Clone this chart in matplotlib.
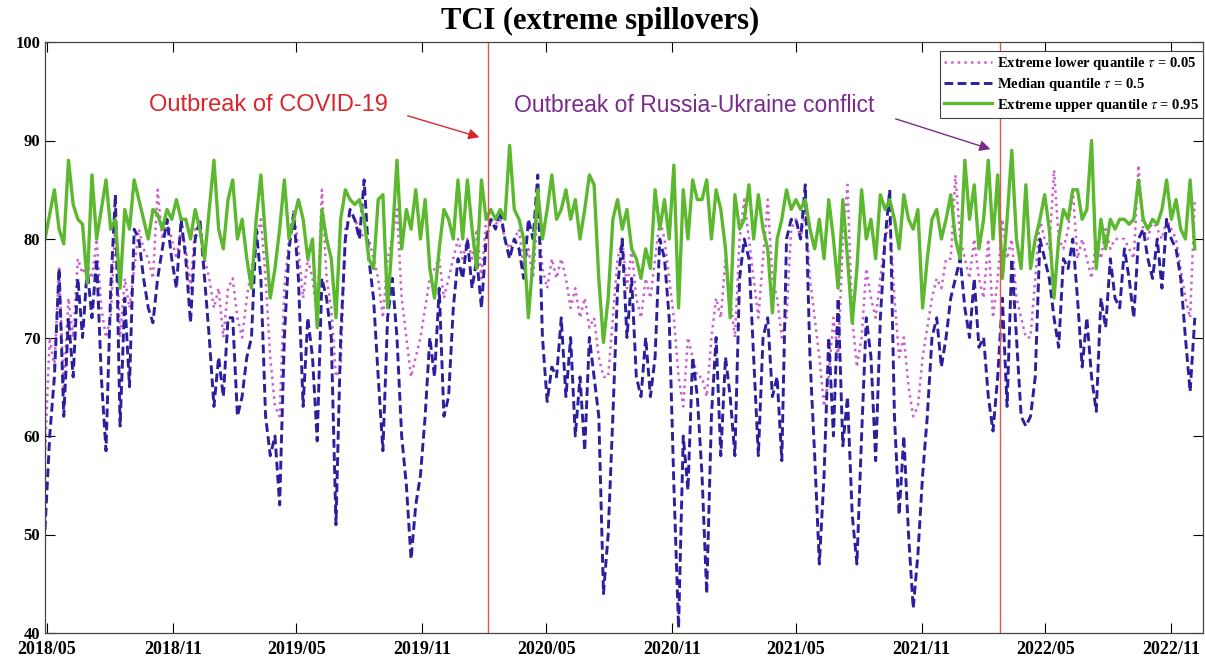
import numpy as np
import pandas as pd
import matplotlib
matplotlib.use('Agg')
import matplotlib.pyplot as plt
import matplotlib.dates as mdates

# weekly readings of the three TCI series
tci_upper = [
    80, 82.5, 85, 81, 79.5, 88, 83.5, 82, 81.5, 75.5,
    86.5, 80, 83, 86, 81, 82, 75, 83, 81, 86,
    84, 82, 80, 83, 82.5, 81, 83, 82, 84, 82,
    82, 80, 83, 81, 78, 83, 88, 81, 79, 84,
    86, 80, 82, 78, 75, 82, 86.5, 80, 74, 77,
    81, 86, 80, 82, 84, 82, 78, 80, 71, 83,
    80, 78, 72, 82, 85, 84, 83.5, 84, 82, 78,
    77, 84, 84.5, 73, 80, 88, 79, 83, 81, 85,
    80, 84, 77, 74, 79, 83, 82, 80, 86, 80,
    86, 81, 77, 86, 82, 83, 82, 83, 82, 89.5,
    83, 82, 80, 72, 78, 85, 80, 83, 86.5, 82,
    83, 85, 82, 84, 80, 83, 86.5, 85.5, 76, 69.5,
    74, 82, 84, 81, 83, 79, 78, 76, 79, 77,
    85, 81, 84, 80, 87.5, 73, 85, 80, 86, 84,
    84, 86, 80, 85, 83, 79, 72, 84.5, 81, 82,
    85.5, 80, 84.5, 81, 79, 72.5, 80, 82, 85, 83,
    84, 83, 84, 81, 79, 82, 78, 84, 80, 75,
    84, 78, 71.5, 77, 85, 80, 82, 78, 84.5, 83,
    84, 82, 79, 84.5, 82, 81, 83, 73, 78, 82,
    83, 80, 82, 84.5, 80, 78, 88, 82, 85.5, 79,
    82, 88, 80, 86.5, 76, 82, 89, 80, 77, 85.5,
    77, 80, 82, 84.5, 81, 74, 80, 83, 82, 85,
    85, 82, 83, 90, 77, 82, 79, 82, 81, 82,
    82, 81.5, 82, 86, 82, 81, 82, 81.5, 83, 86, 82, 84, 81, 80, 86, 79,
]

tci_median = [
    50.5, 60, 66, 77, 62, 72, 66, 76, 70, 77,
    72, 78, 66, 58.5, 75, 84.5, 61, 74, 65, 81,
    80, 76, 73, 71.5, 76, 79, 82, 78, 75, 82,
    78, 71.5, 80, 82, 76, 70, 63, 68, 64, 72,
    72, 62, 64, 68, 70, 81, 76, 62, 58, 60,
    53, 70, 79, 82.5, 76, 63, 72, 68, 59.5, 76,
    74, 70, 51, 70, 80, 83, 82, 80, 86, 78,
    74, 66, 58.5, 72, 76, 70, 60, 55, 47.5, 53,
    56, 62, 70, 66, 75, 62, 64, 73, 78, 76,
    80, 75, 78, 73, 80, 82, 81, 83, 80, 78,
    80, 79, 76, 82, 80, 86.5, 70, 63.5, 67, 66,
    72, 64, 70, 60, 66, 58.5, 70, 66, 62, 44,
    50, 62, 75, 80, 70, 76, 66, 64, 70, 64,
    68, 80, 78, 72, 55, 40.5, 60, 54.5, 68, 64,
    56, 44, 62, 70, 58, 68, 64, 58, 76, 80,
    78, 68, 58, 70, 72, 64, 66, 57.5, 80, 82,
    82, 80, 85.5, 68, 58, 47, 56, 70, 60, 74,
    59, 64, 52, 47, 60, 72, 68, 57.5, 72, 80,
    85, 62, 52, 60, 50, 42.5, 48, 56, 62, 70,
    72, 67, 70, 74, 76, 78, 73, 70, 76, 69,
    70, 64, 60.5, 66, 74, 63, 78, 70, 62, 61,
    62, 66, 80, 78, 76, 72, 69, 78, 77, 80,
    74, 67, 72, 66, 62.5, 74, 71, 78, 74, 73,
    79, 76, 72, 80, 81, 78, 76, 80, 75, 82, 80, 79, 76, 70, 64.5, 72,
]

tci_lower = [
    58, 70, 67, 77, 65, 74, 70, 78, 76.5, 77.5,
    76, 80, 73, 70, 72, 82, 70, 76, 73, 77,
    81, 79, 78, 76, 85, 80, 82, 80, 78, 81,
    79, 75, 81, 82, 78, 76, 73, 75, 70, 75,
    76, 72, 70, 74, 77, 80, 82, 76, 68, 63,
    62, 75, 80, 83, 79, 74, 78, 76, 72, 85,
    76, 73, 66, 67, 81, 82.5, 82, 81, 80, 80,
    78, 76, 72, 78, 80, 83, 74, 70, 66, 68,
    70, 73, 76, 77, 78, 74, 76, 78, 80, 78,
    80, 78, 81, 76, 82, 82, 81.5, 82, 80, 79,
    80, 81, 77, 79, 76, 83, 77, 75, 78, 76,
    78, 76, 73, 75, 72, 74, 71, 72, 68, 66,
    66, 72, 78, 80, 75, 79, 74, 72, 76, 74,
    78, 82, 80, 76, 72, 66, 63, 70, 68, 66,
    66, 64, 70, 74, 72, 78, 74, 70, 80, 84,
    80, 76, 72, 78, 84, 76, 74, 70, 72, 81,
    82, 80, 83, 76, 72, 68, 63, 66, 72, 68,
    80, 85.5, 72, 67, 70, 77, 74, 72, 76, 80,
    82, 74, 68, 70, 65, 62, 63, 68, 71, 74,
    76, 75, 78, 78, 86.5, 80, 78, 76, 80, 76,
    74, 80, 72, 76, 82, 78, 80, 74, 72, 70,
    70, 76, 82, 80, 79, 87, 80, 79, 81, 85,
    78, 80, 78, 76, 80, 78, 81, 79, 80, 80,
    80, 79, 78, 87.5, 81, 80, 82, 81, 80, 82, 81, 80, 77, 74, 72, 84,
]

dates = pd.date_range('2018-04-28', '2022-12-06', periods=len(tci_median))
covid_date = pd.Timestamp('2020-02-05')
war_date = pd.Timestamp('2022-02-24')
tick_dates = pd.date_range('2018-05-01', '2022-11-01', freq='6MS')

plt.rcParams['mathtext.fontset'] = 'stix'
serif = 'Liberation Serif'

fig = plt.figure(figsize=(12.05, 6.6), dpi=100)
ax = fig.add_axes([45/1205, 1-633/660, (1203-45)/1205, (633-42)/660])

ax.plot(dates, tci_lower, color='#cc5fcc', ls=':', lw=1.8,
        label=r'Extreme lower quantile $\tau$ = 0.05')
ax.plot(dates, tci_median, color='#2b1f9e', ls='--', lw=2.1, dashes=(3, 1.5),
        label=r'Median quantile $\tau$ = 0.5')
ax.plot(dates, tci_upper, color='#5cb82e', ls='-', lw=2.4,
        label=r'Extreme upper quantile $\tau$ = 0.95')

ax.axvline(covid_date, color='#e05555', lw=1.0)
ax.axvline(war_date, color='#e05555', lw=1.0)

ax.set_xlim(pd.Timestamp('2018-04-28'), pd.Timestamp('2022-12-18'))
ax.set_ylim(40, 100)
ax.set_yticks([40, 50, 60, 70, 80, 90, 100])
ax.set_xticks(tick_dates)
ax.xaxis.set_major_formatter(mdates.DateFormatter('%Y/%m'))
ax.tick_params(direction='in', top=True, right=True, length=7, width=0.8)
ax.tick_params(axis='x', pad=6)
for lab in ax.get_xticklabels():
    lab.set_fontfamily(serif); lab.set_fontweight('bold'); lab.set_fontsize(13)
for lab in ax.get_yticklabels():
    lab.set_fontfamily(serif); lab.set_fontweight('bold'); lab.set_fontsize(12)
for sp in ax.spines.values():
    sp.set_color('#444444'); sp.set_linewidth(0.9)

fig.text(0.498, 0.967, 'TCI (extreme spillovers)', ha='center', va='center',
         fontfamily=serif, fontweight='bold', fontsize=22)

ax.text(0.1926, 0.8934, 'Outbreak of COVID-19', transform=ax.transAxes,
        ha='center', va='center', color='#d9262e', fontsize=17,
        fontfamily='Liberation Sans')
ax.annotate('', xy=(0.3774, 0.8376), xytext=(0.3109, 0.8765),
            xycoords='axes fraction', textcoords='axes fraction',
            arrowprops=dict(arrowstyle='-|>', color='#d9262e', lw=1.0, mutation_scale=16))
ax.text(0.5604, 0.8934, 'Outbreak of Russia-Ukraine conflict', transform=ax.transAxes,
        ha='center', va='center', color='#7b2a8c', fontsize=16.5,
        fontfamily='Liberation Sans')
ax.annotate('', xy=(0.8187, 0.8173), xytext=(0.7323, 0.8714),
            xycoords='axes fraction', textcoords='axes fraction',
            arrowprops=dict(arrowstyle='-|>', color='#7b2a8c', lw=1.0, mutation_scale=16))

leg = ax.legend(loc='upper right', bbox_to_anchor=(1.0, 0.985), borderaxespad=0,
                prop={'family': serif, 'weight': 'bold', 'size': 10.5},
                handlelength=3.3, handletextpad=0.3, labelspacing=0.25,
                borderpad=0.3, fancybox=False, framealpha=1)
leg.get_frame().set_edgecolor('#444444')
leg.get_frame().set_linewidth(0.8)

fig.savefig('out.png', dpi=100)
